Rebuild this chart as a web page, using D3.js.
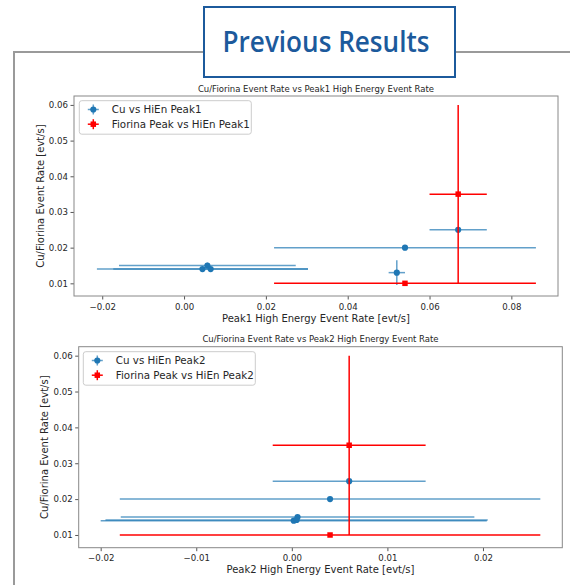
<!DOCTYPE html>
<html>
<head>
<meta charset="utf-8">
<script src="https://cdn.jsdelivr.net/npm/d3@7"></script>
<style>
  body { margin: 0; background: #fff; }
  svg text { font-family: "DejaVu Sans", sans-serif; fill: #262626; }
</style>
</head>
<body>
<svg id="chart" width="570" height="585"></svg>
<script>
// Data //
// Cu rates (y) shared by both panels, Peak1 / Peak2 high energy rates (x)
const peak1CuX = [0.0057, 0.0045, 0.0065, 0.054, 0.052, 0.067]
const peak1CuXErr = [0.0216, 0.0258, 0.0238, 0.032, 0.002, 0.007]
const peak1CuY = [0.015, 0.014, 0.014, 0.020, 0.013, 0.025]
const peak1CuYErr = [0.0008, 0.0006, 0.0006, 0.0007, 0.0035, 0.0005]

const peak1FiorinaX = [0.067, 0.054]
const peak1FiorinaXErr = [0.007, 0.032]
const peak1FiorinaY = [0.035, 0.010]
const peak1FiorinaYErr = [0.025, 0.0004]

const peak2CuX = [0.0006, 0.0002, 0.0005, 0.004, 0.006]
const peak2CuXErr = [0.0185, 0.0202, 0.020, 0.022, 0.008]
const peak2CuY = [0.015, 0.014, 0.0142, 0.020, 0.025]
const peak2CuYErr = [0.0006, 0.0005, 0.0005, 0.0006, 0.0004]

const peak2FiorinaX = [0.006, 0.004]
const peak2FiorinaXErr = [0.008, 0.022]
const peak2FiorinaY = [0.035, 0.010]
const peak2FiorinaYErr = [0.025, 0.0004]

const xDomain1 = [-0.0269, 0.0914]
const xDomain2 = [-0.0223, 0.0283]
const yDomain = [0.00645, 0.0625]
const xTicks1 = [-0.02, 0.00, 0.02, 0.04, 0.06, 0.08]
const xTicks2 = [-0.02, -0.01, 0.00, 0.01, 0.02]
const yTicks = [0.01, 0.02, 0.03, 0.04, 0.05, 0.06]

const CU_COLOR = '#1f77b4'
const FIORINA_COLOR = '#ff0000'

const svg = d3.select('#chart')

// Frame + heading //
svg.append('path')
    .attr('d', 'M14,585 V52 H570')
    .attr('fill', 'none')
    .attr('stroke', '#9a9a9a')
    .attr('stroke-width', 2)

svg.append('rect')
    .attr('x', 204).attr('y', 7)
    .attr('width', 251).attr('height', 70)
    .attr('fill', '#fff')
    .attr('stroke', '#1c5a9c')
    .attr('stroke-width', 2)

svg.append('text')
    .attr('x', 326).attr('y', 52)
    .attr('text-anchor', 'middle')
    .attr('textLength', 207)
    .attr('lengthAdjust', 'spacingAndGlyphs')
    .style('font-family', '"Open Sans", "Noto Sans", sans-serif')
    .style('font-size', '28px')
    .style('font-weight', '600')
    .style('fill', '#1c5a9c')
    .text('Previous Results')

// Helpers //
const zip = (xs, xe, ys, ye) => xs.map((x, i) => ({ x, xerr: xe[i], y: ys[i], yerr: ye[i] }))
const fmt = d => d3.format('.2f')(d).replace('-', '\u2212')
const MARKER_SIZE = 30

const drawErrorbars = (g, x, y, data, color, opacity, marker) => {
    const bars = g.append('g')
        .attr('stroke', color)
        .attr('stroke-opacity', opacity)
        .attr('stroke-width', 1.5)

    bars.selectAll('.xerr').data(data).enter().append('line')
        .attr('x1', d => x(d.x - d.xerr)).attr('x2', d => x(d.x + d.xerr))
        .attr('y1', d => y(d.y)).attr('y2', d => y(d.y))

    bars.selectAll('.yerr').data(data).enter().append('line')
        .attr('x1', d => x(d.x)).attr('x2', d => x(d.x))
        .attr('y1', d => y(d.y - d.yerr)).attr('y2', d => y(d.y + d.yerr))

    const sym = marker === 'square' ? d3.symbolSquare : d3.symbolCircle
    g.append('g').selectAll('path').data(data).enter().append('path')
        .attr('d', d3.symbol().type(sym).size(MARKER_SIZE))
        .attr('transform', d => `translate(${x(d.x)},${y(d.y)})`)
        .attr('fill', color)
}

const drawPanel = (opts) => {
    const { left, top, right, bottom, xDomain, xTicks, title, xLabel, series, legendOffset } = opts

    const x = d3.scaleLinear().domain(xDomain).range([left, right])
    const y = d3.scaleLinear().domain(yDomain).range([bottom, top])

    const g = svg.append('g')

    const clip = 'clip' + Math.round(top)
    g.append('clipPath').attr('id', clip)
        .append('rect')
        .attr('x', left).attr('y', top)
        .attr('width', right - left).attr('height', bottom - top)

    const xAxis = g.append('g')
        .attr('transform', `translate(0,${bottom})`)
        .call(d3.axisBottom(x).tickValues(xTicks).tickFormat(fmt).tickSize(3.5).tickPadding(4))
    const yAxis = g.append('g')
        .attr('transform', `translate(${left},0)`)
        .call(d3.axisLeft(y).tickValues(yTicks).tickFormat(d3.format('.2f')).tickSize(3.5).tickPadding(2.5))

    ;[xAxis, yAxis].forEach(a => {
        a.select('.domain').remove()
        a.selectAll('line').attr('stroke', '#555')
        a.selectAll('text')
            .style('font-family', '"DejaVu Sans", sans-serif')
            .style('font-size', '8.6px')
            .attr('fill', '#262626')
    })

    const plot = g.append('g').attr('clip-path', `url(#${clip})`)
    series.forEach(s => drawErrorbars(plot, x, y, s.data, s.color, s.opacity, s.marker))

    g.append('rect')
        .attr('x', left).attr('y', top)
        .attr('width', right - left).attr('height', bottom - top)
        .attr('fill', 'none')
        .attr('stroke', '#888')
        .attr('stroke-width', 1)

    g.append('text')
        .attr('x', (left + right) / 2).attr('y', top - 4.5)
        .attr('text-anchor', 'middle')
        .style('font-size', '8.5px')
        .text(title)

    g.append('text')
        .attr('x', (left + right) / 2).attr('y', bottom + 25.5)
        .attr('text-anchor', 'middle')
        .style('font-size', '10px')
        .text(xLabel)

    g.append('text')
        .attr('transform', `translate(${left - 30.5},${(top + bottom) / 2}) rotate(-90)`)
        .attr('text-anchor', 'middle')
        .style('font-size', '10px')
        .text('Cu/Fiorina Event Rate [evt/s]')

    // Legend //
    const lg = g.append('g').attr('transform', `translate(${left + legendOffset[0]},${top + legendOffset[1]})`)
    lg.append('rect')
        .attr('width', 172).attr('height', 33.5)
        .attr('rx', 2.5)
        .attr('fill', '#fff').attr('fill-opacity', 0.8)
        .attr('stroke', '#ccc')

    series.forEach((s, i) => {
        const row = lg.append('g').attr('transform', `translate(14,${8.8 + i * 14.7})`)
        row.append('line').attr('x1', -5.5).attr('x2', 5.5)
            .attr('stroke', s.color).attr('stroke-opacity', s.opacity).attr('stroke-width', 1.5)
        row.append('line').attr('y1', -5).attr('y2', 5)
            .attr('stroke', s.color).attr('stroke-opacity', s.opacity).attr('stroke-width', 1.5)
        row.append('path')
            .attr('d', d3.symbol().type(s.marker === 'square' ? d3.symbolSquare : d3.symbolCircle).size(MARKER_SIZE))
            .attr('fill', s.color)
        row.append('text')
            .attr('x', 18.5).attr('y', 3.7)
            .style('font-size', '10.3px')
            .text(s.label)
    })
}

// Panels //
drawPanel({
    left: 74, top: 96, right: 558, bottom: 296,
    xDomain: xDomain1, xTicks: xTicks1,
    title: 'Cu/Fiorina Event Rate vs Peak1 High Energy Event Rate',
    xLabel: 'Peak1 High Energy Event Rate [evt/s]',
    legendOffset: [5.3, 4.7],
    series: [
        { label: 'Cu vs HiEn Peak1', color: CU_COLOR, opacity: 0.7, marker: 'circle',
          data: zip(peak1CuX, peak1CuXErr, peak1CuY, peak1CuYErr) },
        { label: 'Fiorina Peak vs HiEn Peak1', color: FIORINA_COLOR, opacity: 1, marker: 'square',
          data: zip(peak1FiorinaX, peak1FiorinaXErr, peak1FiorinaY, peak1FiorinaYErr) },
    ],
})

drawPanel({
    left: 78.7, top: 346.7, right: 562.3, bottom: 547.7,
    xDomain: xDomain2, xTicks: xTicks2,
    title: 'Cu/Fiorina Event Rate vs Peak2 High Energy Event Rate',
    xLabel: 'Peak2 High Energy Event Rate [evt/s]',
    legendOffset: [4.6, 5],
    series: [
        { label: 'Cu vs HiEn Peak2', color: CU_COLOR, opacity: 0.7, marker: 'circle',
          data: zip(peak2CuX, peak2CuXErr, peak2CuY, peak2CuYErr) },
        { label: 'Fiorina Peak vs HiEn Peak2', color: FIORINA_COLOR, opacity: 1, marker: 'square',
          data: zip(peak2FiorinaX, peak2FiorinaXErr, peak2FiorinaY, peak2FiorinaYErr) },
    ],
})
</script>
</body>
</html>
